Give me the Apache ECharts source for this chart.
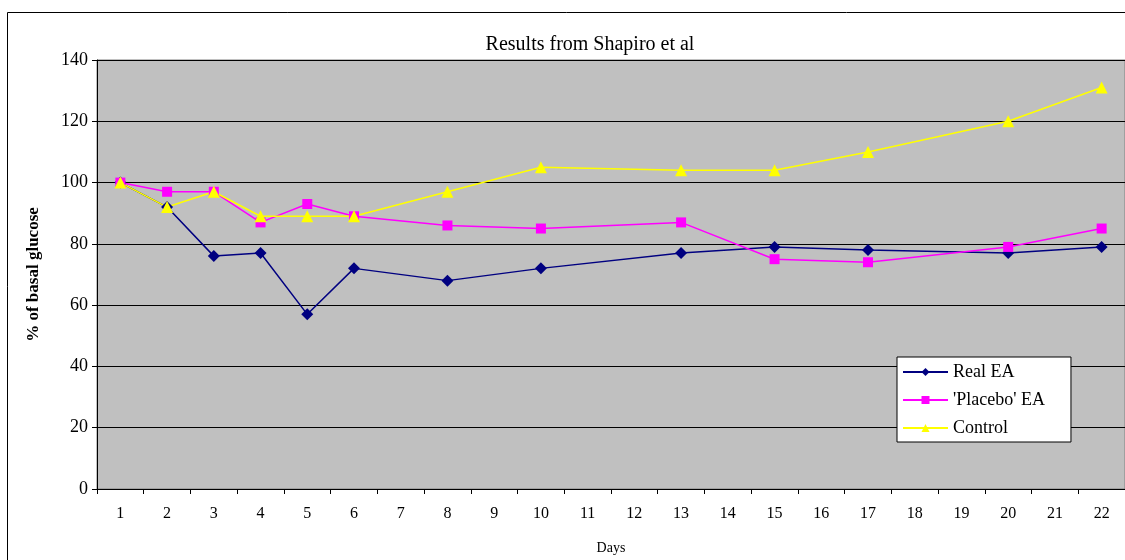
<!DOCTYPE html>
<html><head><meta charset="utf-8">
<script src="https://cdn.jsdelivr.net/npm/echarts@6/dist/echarts.min.js"></script>
<style>html,body{margin:0;padding:0;background:#fff}#c{width:1125px;height:560px}</style>
</head><body><div id="c"></div>
<script>
const days = ['1','2','3','4','5','6','7','8','9','10','11','12','13','14','15','16','17','18','19','20','21','22'];
const realEA =    [100, 92, 76, 77, 57, 72, null, 68, null, 72, null, null, 77, null, 79, null, 78, null, null, 77, null, 79];
const placeboEA = [100, 97, 97, 87, 93, 89, null, 86, null, 85, null, null, 87, null, 75, null, 74, null, null, 79, null, 85];
const control =   [100, 92, 97, 89, 89, 89, null, 97, null, 105, null, null, 104, null, 104, null, 110, null, null, 120, null, 131];
const yTicks = [0, 20, 40, 60, 80, 100, 120, 140];

const font = 'Liberation Serif, Times New Roman, serif';
const chart = echarts.init(document.getElementById('c'));
chart.setOption({
  animation: false,
  backgroundColor: '#fff',
  title: { text: 'Results from Shapiro et al', left: 585, top: 30, textAlign: 'center',
    textStyle: { fontFamily: font, fontSize: 20, fontWeight: 'normal', color: '#000' } },
  graphic: [{ type: 'rect', shape: { x: 7.5, y: 12.5, width: 1125, height: 560 },
    style: { fill: 'none', stroke: '#000', lineWidth: 1 }, z: 100 }],
  grid: { left: 97, top: 60, width: 1029, height: 433, backgroundColor: '#C0C0C0', show: true, borderColor: '#808080', borderWidth: 1 },
  legend: {
    orient: 'vertical', left: 897, top: 357,
    backgroundColor: '#fff', borderColor: '#000', borderWidth: 1,
    padding: [6, 26, 5, 5], itemGap: 10, itemWidth: 45, itemHeight: 10,
    textStyle: { fontFamily: font, fontSize: 18, color: '#000' },
    data: ['Real EA', "'Placebo' EA", 'Control']
  },
  xAxis: {
    type: 'category', data: days, boundaryGap: true,
    name: 'Days', nameLocation: 'middle', nameGap: 52,
    nameTextStyle: { fontFamily: font, fontSize: 14, color: '#000' },
    axisLine: { lineStyle: { color: '#000', width: 1 } },
    axisTick: { show: true, alignWithLabel: false, length: 5, lineStyle: { color: '#000' } },
    axisLabel: { fontFamily: font, fontSize: 16, color: '#000', margin: 17, interval: 0 },
    splitLine: { show: false }
  },
  yAxis: {
    type: 'value', min: 0, max: 140, interval: 20,
    name: '% of basal glucose', nameLocation: 'middle', nameGap: 55, nameRotate: 90,
    nameTextStyle: { fontFamily: font, fontSize: 17, fontWeight: 'bold', color: '#000' },
    axisLine: { show: true, lineStyle: { color: '#000', width: 1 } },
    axisTick: { show: true, length: 5, lineStyle: { color: '#000' } },
    axisLabel: { fontFamily: font, fontSize: 18, color: '#000', margin: 9,
      formatter: v => yTicks.includes(v) ? String(v) : '' },
    splitLine: { show: true, lineStyle: { color: '#000', width: 1 } }
  },
  series: [
    { name: 'Real EA', type: 'line', data: realEA, connectNulls: true,
      symbol: 'diamond', symbolSize: 12, lineStyle: { color: '#000080', width: 1.5 },
      itemStyle: { color: '#000080' } },
    { name: "'Placebo' EA", type: 'line', data: placeboEA, connectNulls: true,
      symbol: 'rect', symbolSize: 10, lineStyle: { color: '#FF00FF', width: 1.5 },
      itemStyle: { color: '#FF00FF' } },
    { name: 'Control', type: 'line', data: control, connectNulls: true,
      symbol: 'triangle', symbolSize: 12, lineStyle: { color: '#FFFF00', width: 1.5 },
      itemStyle: { color: '#FFFF00' } }
  ]
});
</script></body></html>
